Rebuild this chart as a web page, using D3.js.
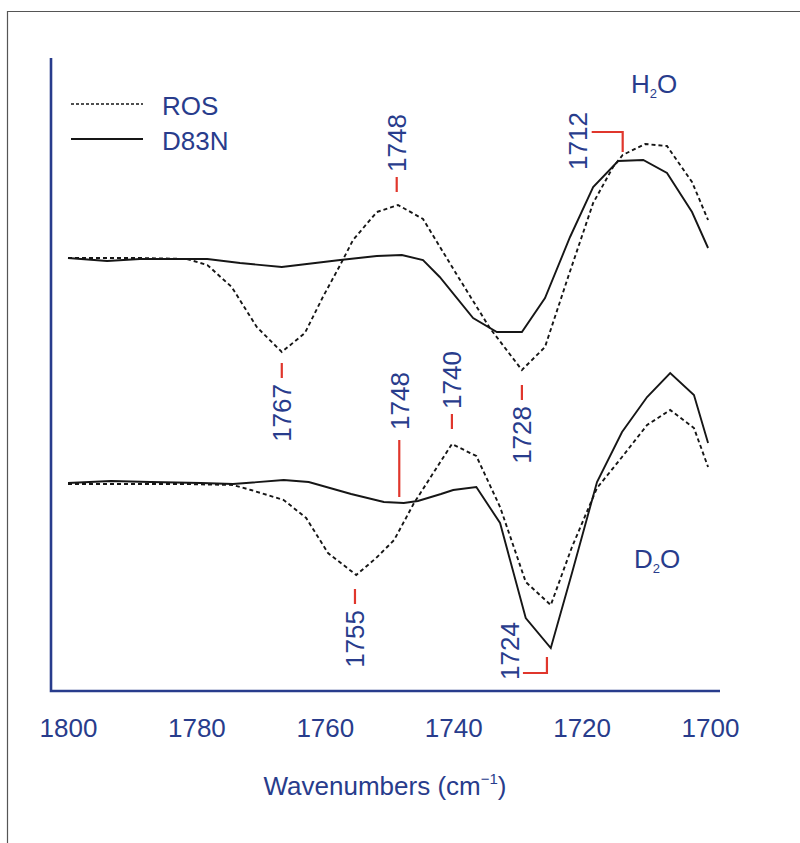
<!DOCTYPE html>
<html>
<head>
<meta charset="utf-8">
<script src="https://cdn.jsdelivr.net/npm/d3@7"></script>
<style>
  body { margin: 0; background: #fff; }
  svg { display: block; }
  text { font-family: "Liberation Sans", Arial, Helvetica, sans-serif; fill: #283c8c; }
</style>
</head>
<body>
<svg width="800" height="843"></svg>
<script>
// wavenumber (cm-1), difference absorbance (arb. units, 0 = baseline)
const h2oROS = [
  [1800, 0.0], [1793.9, 0.0], [1788.8, 0.0], [1781.5, -0.1], [1778.3, -0.7],
  [1774.5, -2.9], [1770.6, -6.9], [1766.7, -9.4], [1763.1, -7.5], [1760.3, -3.9],
  [1757.6, -0.7], [1755.6, 1.8], [1751.9, 4.6], [1748.6, 5.3], [1744.7, 3.9],
  [1739.5, -1.6], [1734.3, -7.0], [1729.3, -11.2], [1725.7, -8.9], [1722.1, -1.9],
  [1718.2, 5.5], [1715.1, 9.1], [1713.6, 10.3], [1710.1, 11.4], [1706.7, 11.2],
  [1702.8, 7.6], [1700.3, 3.8]
];
const h2oD83N = [
  [1800, 0.0], [1793.9, -0.3], [1788.8, -0.1], [1782.1, -0.1], [1778.3, -0.1],
  [1773.2, -0.5], [1766.7, -0.9], [1762.8, -0.6], [1757.6, -0.2], [1751.9, 0.2],
  [1748.0, 0.3], [1744.7, -0.2], [1742.1, -1.9], [1736.9, -6.0], [1733.2, -7.4],
  [1729.3, -7.4], [1725.7, -4.0], [1721.8, 2.1], [1718.2, 7.1], [1714.3, 9.7],
  [1710.4, 9.8], [1706.7, 8.5], [1702.8, 4.6], [1700.3, 1.0]
];
const d2oROS = [
  [1800, 0.0], [1792.2, 0.0], [1781.9, 0.0], [1774.3, -0.1], [1771.5, -0.6],
  [1766.4, -1.6], [1762.9, -3.4], [1759.5, -6.9], [1757.5, -7.9], [1755.1, -9.1],
  [1752.0, -7.4], [1749.2, -5.6], [1746.1, -1.9], [1743.6, 0.6], [1740.2, 4.0],
  [1736.4, 2.8], [1732.7, -2.3], [1728.7, -9.8], [1724.8, -12.1], [1721.5, -6.3],
  [1717.6, -0.4], [1713.7, 2.7], [1709.8, 5.9], [1706.2, 7.4], [1702.5, 5.6],
  [1700.3, 1.7]
];
const d2oD83N = [
  [1800, 0.1], [1793.3, 0.3], [1787.1, 0.2], [1779.3, 0.1], [1774.3, 0.0],
  [1766.4, 0.4], [1762.5, 0.2], [1755.9, -1.0], [1750.8, -1.8], [1747.7, -1.9],
  [1745.5, -1.7], [1741.9, -1.0], [1740.0, -0.6], [1736.4, -0.3], [1732.7, -3.9],
  [1728.7, -13.4], [1724.8, -16.4], [1721.5, -8.9], [1717.6, 0.2], [1713.7, 5.2],
  [1709.8, 8.7], [1706.2, 11.1], [1702.5, 8.9], [1700.3, 4.1]
];
const h2oOffset = 22.6;
const d2oOffset = 0;

const tickVals = [1800, 1780, 1760, 1740, 1720, 1700];

// peak labels: text, position (cm-1), level of the marker tip, marker kind
const peakText = ["1767", "1748", "1728", "1712", "1748", "1740", "1755", "1724"];
const peakAt   = [1766.7, 1748.8, 1729.3, 1713.6, 1748.4, 1740.2, 1755.3, 1725.4];
const peakTip  = [12.1, 29.2, 9.9, 33.2, -1.3, 5.5, -10.5, -17.3];
const peakKind = ["below", "above", "below", "bracketUp", "aboveLong", "above", "below", "bracketDown"];

const legendNames = ["ROS", "D83N"];

const svg = d3.select("svg");
const blue = "#283c8c", red = "#e0362c", ink = "#161616";

const x = d3.scaleLinear().domain([1800, 1700]).range([68, 710]);
const y = d3.scaleLinear().domain([-20.7, 42.6]).range([691, 58]);

// outer frame
svg.append("path")
  .attr("d", "M7.5,843V11.5H800")
  .attr("fill", "none").attr("stroke", "#555").attr("stroke-width", 1.2);

// axes frame
svg.append("path")
  .attr("d", "M51," + y(42.6) + "V" + y(-20.7) + "H720")
  .attr("fill", "none").attr("stroke", blue).attr("stroke-width", 2.6);

const xAxis = svg.append("g")
  .attr("transform", "translate(0," + y(-20.7) + ")")
  .call(d3.axisBottom(x).tickValues(tickVals).tickSize(0).tickFormat(d3.format("d")));
xAxis.select(".domain").remove();
xAxis.selectAll("text")
  .attr("y", 46).attr("dy", null)
  .style("font-size", "26px").attr("fill", blue);

const title = svg.append("text")
  .attr("x", 385).attr("y", 795)
  .attr("text-anchor", "middle")
  .style("font-size", "26px");
title.append("tspan").text("Wavenumbers (cm");
title.append("tspan").attr("dy", -11).style("font-size", "15px").text("\u22121");
title.append("tspan").attr("dy", 11).text(")");

// spectra
const line = offset => d3.line()
  .x(d => x(d[0]))
  .y(d => y(d[1] + offset));

const series = [
  { data: h2oROS, off: h2oOffset, dash: "4,3" },
  { data: h2oD83N, off: h2oOffset, dash: null },
  { data: d2oROS, off: d2oOffset, dash: "4,3" },
  { data: d2oD83N, off: d2oOffset, dash: null }
];
svg.selectAll(".spec")
  .data(series)
  .enter().append("path")
  .attr("class", "spec")
  .attr("d", s => line(s.off)(s.data))
  .attr("fill", "none")
  .attr("stroke", ink)
  .attr("stroke-width", 1.9)
  .attr("stroke-linejoin", "miter")
  .attr("stroke-dasharray", s => s.dash);

// peak markers
const peaks = peakText.map((t, i) => ({ text: t, at: peakAt[i], tip: peakTip[i], kind: peakKind[i] }));
const pg = svg.selectAll(".peak").data(peaks).enter().append("g").attr("class", "peak");

pg.each(function(d) {
  const g = d3.select(this);
  const px = x(d.at), py = y(d.tip);
  let path, tx, ty, anchor;
  if (d.kind === "below") {
    path = "M" + px + "," + py + "V" + (py + 15);
    tx = px; ty = py + 21; anchor = "end";
  } else if (d.kind === "above") {
    path = "M" + px + "," + py + "V" + (py - 15);
    tx = px; ty = py - 20; anchor = "start";
  } else if (d.kind === "aboveLong") {
    path = "M" + px + "," + py + "V" + (py - 57);
    tx = px; ty = py - 67; anchor = "start";
  } else if (d.kind === "bracketUp") {
    path = "M" + px + "," + py + "V" + (py - 20) + "H" + (px - 31);
    tx = px - 45; ty = py + 18; anchor = "start";
  } else {
    path = "M" + px + "," + py + "V" + (py + 16) + "H" + (px - 24);
    tx = px - 37; ty = py + 23; anchor = "start";
  }
  g.append("path").attr("d", path)
    .attr("fill", "none").attr("stroke", red).attr("stroke-width", 2.2);
  g.append("text")
    .attr("transform", "translate(" + tx + "," + ty + ") rotate(-90)")
    .attr("text-anchor", anchor)
    .attr("dy", "0.36em")
    .style("font-size", "26px")
    .text(d.text);
});

// solvent labels
function solvent(letter, lx, ly) {
  const t = svg.append("text").attr("x", lx).attr("y", ly).style("font-size", "26px");
  t.append("tspan").text(letter);
  t.append("tspan").attr("dy", 5).style("font-size", "13px").text("2");
  t.append("tspan").attr("dy", -5).text("O");
}
solvent("H", 631, 93);
solvent("D", 634, 568);

// legend
const lg = svg.selectAll(".leg").data(legendNames).enter().append("g")
  .attr("class", "leg")
  .attr("transform", (d, i) => "translate(0," + (i * 35) + ")");
lg.append("line")
  .attr("x1", 71).attr("x2", 143).attr("y1", 104).attr("y2", 104)
  .attr("stroke", ink)
  .attr("stroke-width", (d, i) => i ? 2 : 1.6)
  .attr("stroke-dasharray", (d, i) => i ? null : "3,2");
lg.append("text")
  .attr("x", 162).attr("y", 115)
  .style("font-size", "26px")
  .text(d => d);
</script>
</body>
</html>
